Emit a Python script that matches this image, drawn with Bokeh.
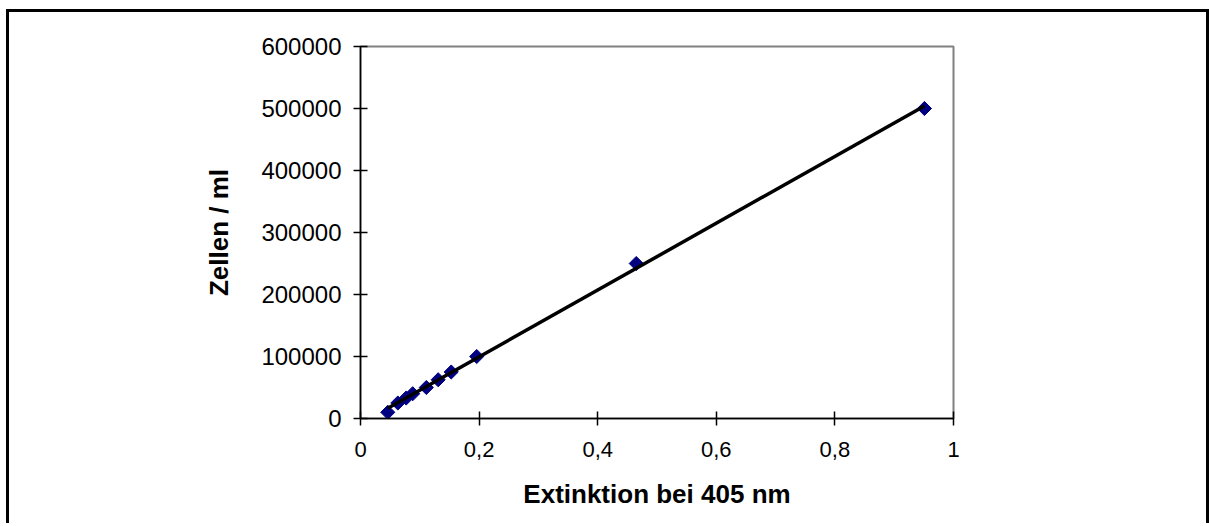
import numpy as np
from bokeh.plotting import figure
from bokeh.models import FixedTicker, Range1d
from bokeh.embed import file_html
from bokeh.resources import INLINE

extinktion = [0.046, 0.063, 0.077, 0.088, 0.111, 0.131, 0.153, 0.196, 0.465, 0.951]
zellen = [10000, 25000, 33000, 40000, 50000, 62500, 75000, 100000, 250000, 500000]

x_ticks = [0, 0.2, 0.4, 0.6, 0.8, 1.0]
x_tick_labels = ["0", "0,2", "0,4", "0,6", "0,8", "1"]
y_ticks = [0, 100000, 200000, 300000, 400000, 500000, 600000]
y_tick_labels = ["0", "100000", "200000", "300000", "400000", "500000", "600000"]

x_title = "Extinktion bei 405 nm"
y_title = "Zellen / ml"

FONT = "Liberation Sans"

p = figure(width=1203, height=514, output_backend="svg", toolbar_location=None,
           x_range=Range1d(0, 1), y_range=Range1d(0, 600000),
           min_border_left=351, min_border_top=34, min_border_right=259, min_border_bottom=108)
p.styles = {"margin-left": "6px", "margin-top": "9px",
            "border-left": "3px solid black", "border-top": "3px solid black",
            "border-right": "3px solid black"}

p.background_fill_color = "white"
p.border_fill_color = "white"
p.outline_line_color = "#808080"
p.outline_line_width = 2
p.grid.visible = False

p.xaxis.ticker = FixedTicker(ticks=x_ticks)
p.xaxis.major_label_overrides = {t: l for t, l in zip(x_ticks, x_tick_labels)}
p.yaxis.ticker = FixedTicker(ticks=y_ticks)
p.yaxis.major_label_overrides = {t: l for t, l in zip(y_ticks, y_tick_labels)}

for ax in (p.xaxis, p.yaxis):
    ax.axis_line_color = "black"
    ax.axis_line_width = 1.5
    ax.major_tick_line_color = "black"
    ax.major_tick_line_width = 1.5
    ax.major_tick_in = 7
    ax.major_tick_out = 7
    ax.minor_tick_line_color = None
    ax.major_label_text_font = FONT
    ax.major_label_text_color = "black"
    ax.axis_label_text_font = FONT
    ax.axis_label_text_font_style = "bold"
    ax.axis_label_text_color = "black"
    ax.axis_label_text_font_size = "26px"

p.xaxis.major_label_text_font_size = "22px"
p.yaxis.major_label_text_font_size = "24px"
p.xaxis.major_label_standoff = 16
p.yaxis.major_label_standoff = 12
p.xaxis.axis_label = x_title
p.yaxis.axis_label = y_title
p.xaxis.axis_label_standoff = 19
p.yaxis.axis_label_standoff = 24

p.scatter(extinktion, zellen, marker="square", size=10, angle=np.pi / 4,
          fill_color="#000080", line_color="#000080")

slope, intercept = np.polyfit(extinktion, zellen, 1)
xs = [min(extinktion), max(extinktion)]
ys = [slope * v + intercept for v in xs]
p.line(xs, ys, line_color="black", line_width=3.5)

open("out.html", "w").write(file_html(p, INLINE))
